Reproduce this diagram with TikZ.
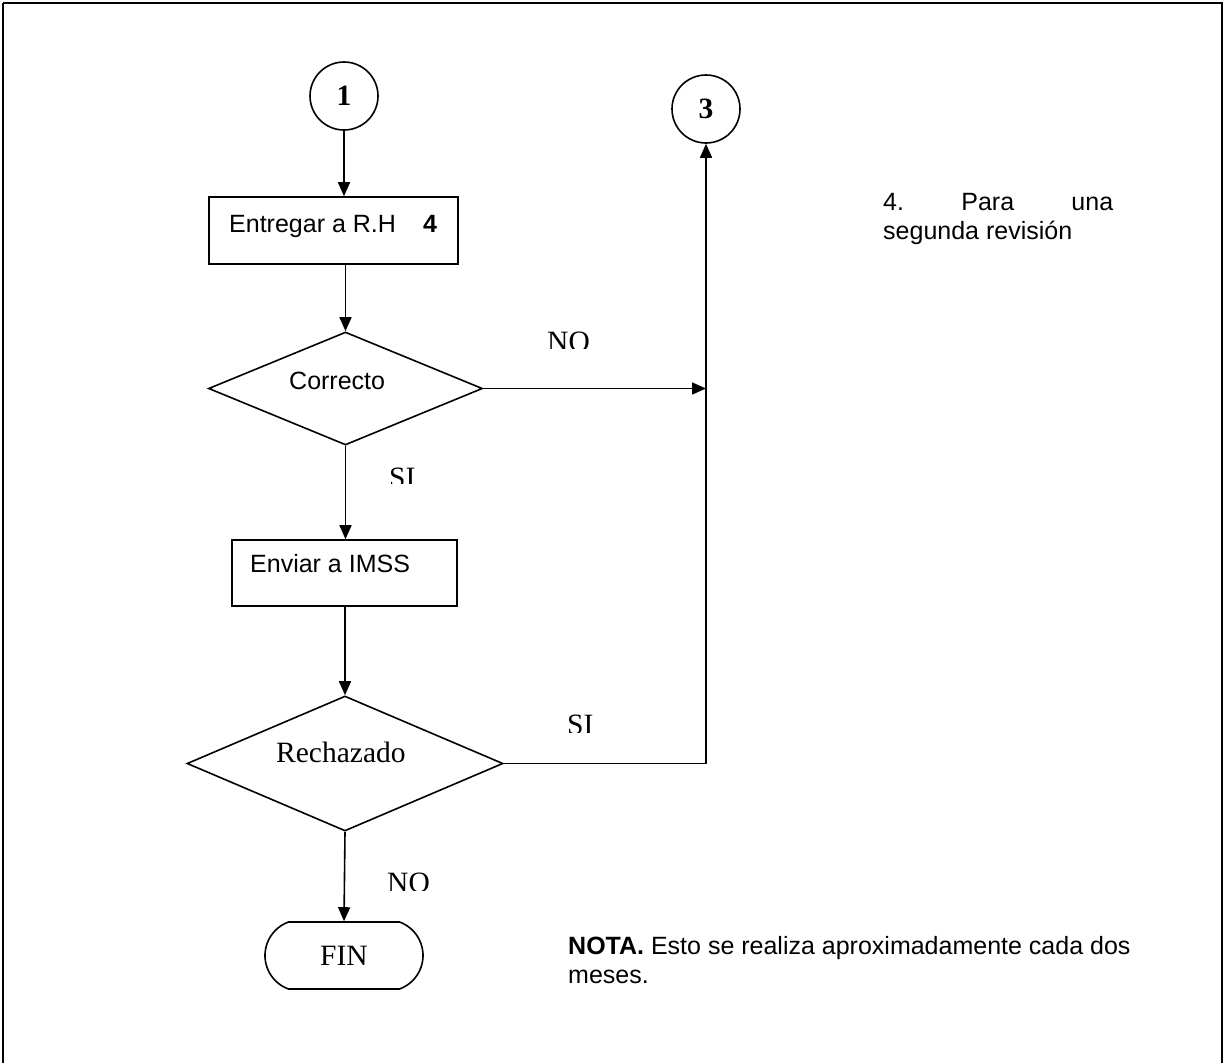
\documentclass[tikz,border=0pt]{standalone}
\usepackage{fontspec}
\setmainfont{Liberation Serif}
\setsansfont{Liberation Sans}
\usetikzlibrary{arrows.meta,shapes.geometric,shapes.misc}
\tikzset{
  ln/.style={line width=1.6pt},
  arr/.style={ln,-{Triangle[length=14pt,width=12pt]}},
  conn/.style={draw,circle,ln,minimum size=68pt,inner sep=0pt,font=\fontsize{29.5}{32}\selectfont\bfseries},
  procbox/.style={draw,rectangle,ln,inner sep=0pt},
  decision/.style={draw,diamond,ln,inner sep=0pt},
  sf/.style={font=\sffamily\fontsize{25}{30}\selectfont,inner sep=0pt},
  rm/.style={font=\fontsize{29.5}{32}\selectfont,inner sep=0pt},
}
\begin{document}
\begin{tikzpicture}[x=1pt,y=-1pt]
\useasboundingbox (0,0) rectangle (1227,1063);
% frame
\draw[line width=2.2pt] (3,3) -- (1223,3);
\draw[line width=1.2pt] (3,3) -- (3,1063);
\draw[line width=1.2pt] (1222,3) -- (1222,1063);

% nodes
\node[conn] (c1) at (344,96) {1};
\node[conn] (c3) at (706,109) {3};
\node[procbox,minimum width=249pt,minimum height=67pt] (b1) at (333.5,230.5) {};
\node[sf,anchor=base west] (t1) at (229,232) {Entregar a R.H};
\node[sf,anchor=base west,font=\sffamily\bfseries\fontsize{25}{30}\selectfont] (t1n) at (423,232) {4};
\node[decision,minimum width=274pt,minimum height=113pt] (d1) at (345.5,388.5) {};
\node[sf,anchor=base west] (t2) at (289,389) {Correcto};
\node[procbox,minimum width=225pt,minimum height=66pt] (b2) at (344.5,573) {};
\node[sf,anchor=base west] (t3) at (250,572) {Enviar a IMSS};
\node[decision,minimum width=316pt,minimum height=135pt] (d2) at (345,763.5) {};
\node[rm,anchor=base west] (t4) at (276,762) {Rechazado};
\node[draw,ln,rounded rectangle,rounded rectangle arc length=140,minimum width=158pt,minimum height=67pt,inner sep=0pt,rm] (fin) at (344,955.5) {FIN};

\coordinate (j1) at (706,388.5);
\coordinate (j2) at (706,763.5);

% labels (clipped at bottom as in the original)
\begin{scope}
\clip (530,320) rectangle (610,348);
\node[rm,anchor=base west] (no1) at (547,351.5) {NO};
\end{scope}
\begin{scope}
\clip (375,455) rectangle (440,483);
\node[rm,anchor=base west] (si1) at (389,487.5) {SI};
\end{scope}
\begin{scope}
\clip (550,700) rectangle (615,732);
\node[rm,anchor=base west] (si2) at (567,734.5) {SI};
\end{scope}
\begin{scope}
\clip (375,860) rectangle (445,890);
\node[rm,anchor=base west] (no2) at (387,892.5) {NO};
\end{scope}

% side notes
\node[sf,anchor=base west] (n1) at (883,210) {\hbox to 230pt{4.\hfill Para\hfill una}};
\node[sf,anchor=base west] (n2) at (883,239) {segunda revisión};
\node[sf,anchor=base west] (n3) at (568,954) {\textbf{NOTA.} Esto se realiza aproximadamente cada dos};
\node[sf,anchor=base west] (n4) at (568,983) {meses.};

% connectors
\draw[arr] (c1.south) -- (c1.south |- b1.north);
\draw[arr] (b1.south -| d1.north) -- (d1.north);
\draw[arr] (d1.east) -- (j1);
\draw[arr] (d1.south) -- (b2.north -| d1.south);
\draw[arr] (b2.south -| d2.north) -- (d2.north);
\draw[ln] (d2.east) -- (j2);
\draw[arr] (j2) -- (c3.south);
\draw[arr] (d2.south) -- (fin.north);
\end{tikzpicture}
\end{document}
